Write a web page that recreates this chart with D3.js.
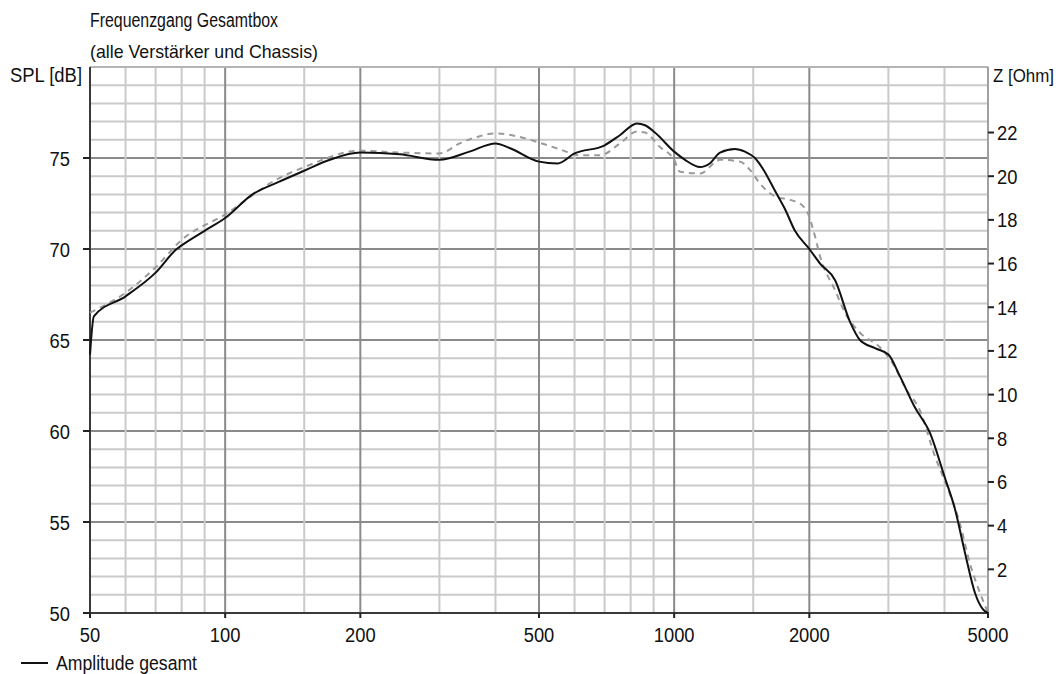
<!DOCTYPE html>
<html>
<head>
<meta charset="utf-8">
<script src="https://cdn.jsdelivr.net/npm/d3@7"></script>
<style>
  body { margin: 0; background: #fff; }
  svg text { font-family: "Liberation Sans", Arial, sans-serif; fill: #111; }
</style>
</head>
<body>
<svg width="1064" height="674"></svg>
<script>
// texts
const title = 'Frequenzgang Gesamtbox';
const subtitle = '(alle Verstärker und Chassis)';
const yLabel = 'SPL [dB]';
const zLabel = 'Z [Ohm]';
const legendLabel = 'Amplitude gesamt';

// solid curve: Amplitude gesamt (Hz / dB)
const splFreq = [50, 51, 60, 70, 78, 80, 90, 100, 115, 132, 150, 171, 200, 245, 300, 350, 400, 430, 500, 550,
  600, 700, 757, 826, 861, 906, 1000, 1057, 1142, 1200, 1265, 1366, 1438, 1513, 1577, 1677, 1765, 1858, 2000,
  2113, 2281, 2464, 2593, 2800, 3000, 3184, 3436, 3713, 4000, 4222, 4444, 4677, 4873, 5000];
const splDb = [64.2, 66.3, 67.4, 68.7, 70.0, 70.2, 71.0, 71.7, 73.0, 73.7, 74.3, 74.9, 75.3, 75.2, 74.9, 75.35, 75.8, 75.55, 74.8, 74.7,
  75.25, 75.7, 76.25, 76.9, 76.8, 76.4, 75.35, 74.9, 74.5, 74.7, 75.3, 75.5, 75.35, 75.0, 74.4, 73.2, 72.2, 71.0, 70.0,
  69.2, 68.3, 66.0, 65.0, 64.55, 64.2, 63.0, 61.3, 59.9, 57.5, 55.7, 53.3, 51.1, 50.2, 50.0];

// dashed grey curve (Hz / dB)
const refFreq = [50, 60, 70, 80, 100, 132, 150, 200, 245, 300, 333, 369, 399, 454, 500, 553, 617, 684, 757, 826,
  861, 930, 1000, 1030, 1142, 1265, 1401, 1475, 1552, 1677, 1811, 1906, 1990, 2059, 2113, 2281, 2402, 2593, 2872,
  3104, 3266, 3530, 3810, 4000, 4330, 4560, 4800, 4925, 5000];
const refDb = [66.5, 67.6, 69.0, 70.5, 71.9, 73.9, 74.5, 75.4, 75.3, 75.25, 75.8, 76.2, 76.35, 76.15, 75.85, 75.5, 75.15, 75.15, 75.8, 76.45,
  76.4, 75.6, 74.9, 74.25, 74.15, 74.9, 74.8, 74.35, 73.6, 72.9, 72.7, 72.5, 71.9, 70.7, 69.6, 67.75, 66.5, 65.4, 64.6,
  63.5, 62.4, 61.1, 58.6, 57.3, 54.9, 52.7, 51.1, 50.4, 50.0];

// axes
const xTicks = [50, 100, 200, 500, 1000, 2000, 5000];
const xGrid = [60, 70, 80, 90, 150, 300, 400, 600, 700, 800, 900, 1500, 3000, 4000];
const xMajor = [100, 200, 500, 1000, 2000];
const yTicks = [50, 55, 60, 65, 70, 75];
const zTicks = [2, 4, 6, 8, 10, 12, 14, 16, 18, 20, 22];

const $svg = d3.select('svg');
const plot = {left: 90, right: 988, top: 67, bottom: 613};

const x = d3.scaleLog().domain([50, 5000]).range([plot.left, plot.right]);
const y = d3.scaleLinear().domain([50, 80]).range([plot.bottom, plot.top]);
const z = d3.scaleLinear().domain([0, 25]).range([plot.bottom, plot.top]);

const digitW = 10.2; // condensed look of the original font

// grid: 1 dB horizontal lines, darker every 5 dB
const $grid = $svg.append('g');
d3.range(51, 80).forEach((v) => {
  $grid.append('line')
    .attr('x1', plot.left).attr('x2', plot.right)
    .attr('y1', y(v)).attr('y2', y(v))
    .attr('stroke', v % 5 === 0 ? '#8a8a8a' : '#cacaca')
    .attr('stroke-width', 2);
});
xGrid.concat(xMajor).forEach((f) => {
  $grid.append('line')
    .attr('x1', x(f)).attr('x2', x(f))
    .attr('y1', plot.top).attr('y2', plot.bottom)
    .attr('stroke', xMajor.includes(f) ? '#8a8a8a' : '#cacaca')
    .attr('stroke-width', 2);
});

// frame: top and right light, left and bottom dark
$svg.append('line').attr('x1', plot.left).attr('x2', plot.right).attr('y1', plot.top).attr('y2', plot.top)
  .attr('stroke', '#b4b4b4').attr('stroke-width', 2);
$svg.append('line').attr('x1', plot.right).attr('x2', plot.right).attr('y1', plot.top).attr('y2', plot.bottom)
  .attr('stroke', '#a0a0a0').attr('stroke-width', 2);
$svg.append('line').attr('x1', plot.left).attr('x2', plot.left).attr('y1', plot.top).attr('y2', plot.bottom + 1)
  .attr('stroke', '#3a3a3a').attr('stroke-width', 2);
$svg.append('line').attr('x1', plot.left - 1).attr('x2', plot.right + 1).attr('y1', plot.bottom).attr('y2', plot.bottom)
  .attr('stroke', '#3a3a3a').attr('stroke-width', 2);

// curves
const line = d3.line()
  .curve(d3.curveMonotoneX)
  .x((d) => x(d[0]))
  .y((d) => y(d[1]));

$svg.append('path')
  .datum(refFreq.map((f, i) => [f, refDb[i]]))
  .attr('d', line)
  .attr('fill', 'none')
  .attr('stroke', '#9a9a9a')
  .attr('stroke-width', 2)
  .attr('stroke-dasharray', '6,5');

$svg.append('path')
  .datum(splFreq.map((f, i) => [f, splDb[i]]))
  .attr('d', line)
  .attr('fill', 'none')
  .attr('stroke', '#111')
  .attr('stroke-width', 2);

// left axis
yTicks.forEach((v) => {
  $svg.append('line').attr('x1', plot.left - 7).attr('x2', plot.left).attr('y1', y(v)).attr('y2', y(v))
    .attr('stroke', '#222').attr('stroke-width', 2);
  const s = String(v);
  $svg.append('text')
    .attr('x', 70).attr('y', y(v) + 7.5)
    .attr('text-anchor', 'end')
    .attr('font-size', 20)
    .attr('textLength', s.length * digitW).attr('lengthAdjust', 'spacingAndGlyphs')
    .text(s);
});

// right axis (impedance)
zTicks.forEach((v) => {
  $svg.append('line').attr('x1', plot.right).attr('x2', plot.right + 6).attr('y1', z(v)).attr('y2', z(v))
    .attr('stroke', '#222').attr('stroke-width', 2);
  const s = String(v);
  $svg.append('text')
    .attr('x', plot.right + 9).attr('y', z(v) + 7.5)
    .attr('font-size', 20)
    .attr('textLength', s.length * digitW).attr('lengthAdjust', 'spacingAndGlyphs')
    .text(s);
});

// bottom axis
xTicks.forEach((f) => {
  $svg.append('line').attr('x1', x(f)).attr('x2', x(f)).attr('y1', plot.bottom).attr('y2', plot.bottom + 5)
    .attr('stroke', '#222').attr('stroke-width', 2);
  const s = String(f);
  $svg.append('text')
    .attr('x', x(f)).attr('y', 642)
    .attr('text-anchor', 'middle')
    .attr('font-size', 20)
    .attr('textLength', s.length * digitW).attr('lengthAdjust', 'spacingAndGlyphs')
    .text(s);
});

// titles and axis names
const label = (txt, xPos, yPos, size, width, anchor) => $svg.append('text')
  .attr('x', xPos).attr('y', yPos)
  .attr('font-size', size)
  .attr('text-anchor', anchor || 'start')
  .attr('textLength', width).attr('lengthAdjust', 'spacingAndGlyphs')
  .text(txt);

label(title, 90, 27, 20, 188);
label(subtitle, 90, 58, 19, 228);
label(yLabel, 10, 82, 20, 72);
label(zLabel, 993, 82, 18, 61);

// legend
$svg.append('line').attr('x1', 21).attr('x2', 48).attr('y1', 663).attr('y2', 663)
  .attr('stroke', '#111').attr('stroke-width', 2);
label(legendLabel, 56, 670, 20, 141);
</script>
</body>
</html>
